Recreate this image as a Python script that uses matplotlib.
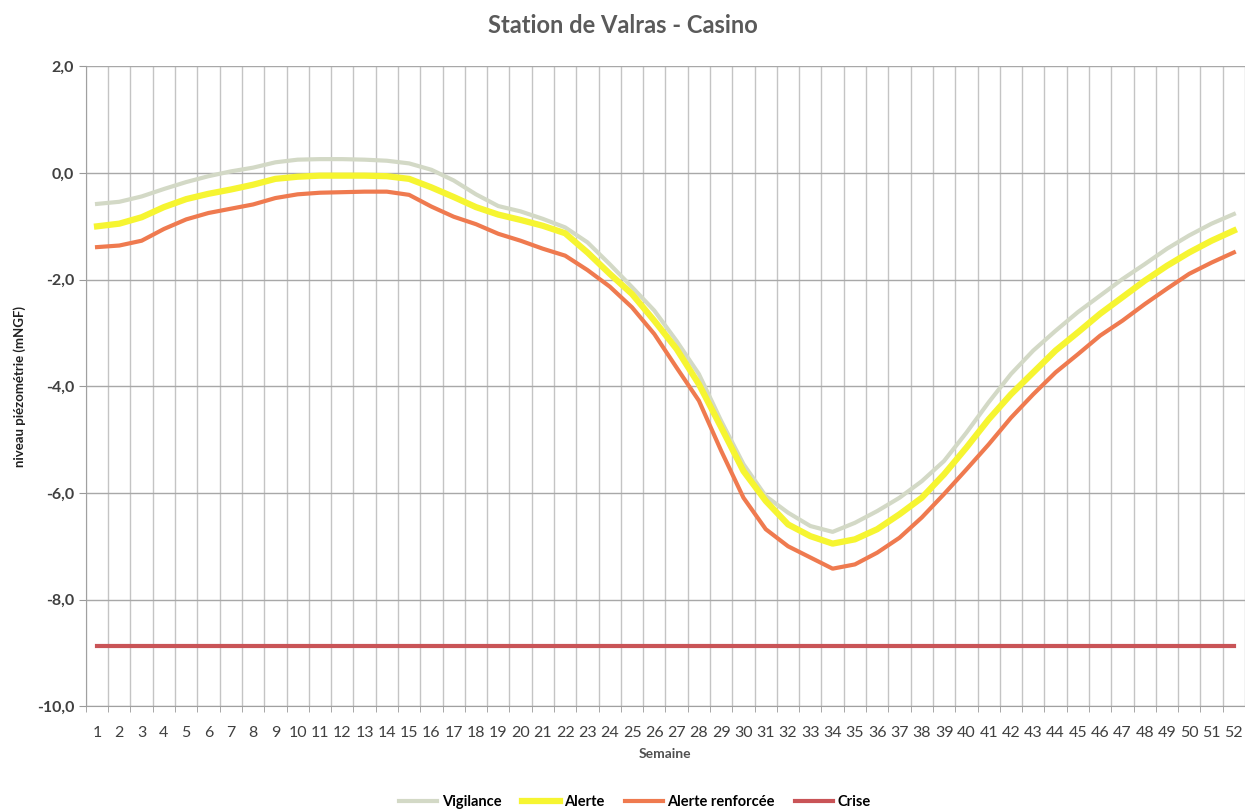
import numpy as np
import matplotlib.pyplot as plt
from matplotlib.ticker import FuncFormatter

# semaines
semaines = list(range(1, 53))

# seuils (mNGF)
vigilance = [-0.58, -0.54, -0.44, -0.30, -0.17, -0.06, 0.03, 0.10, 0.20, 0.25,
             0.26, 0.26, 0.25, 0.23, 0.18, 0.06, -0.14, -0.40, -0.62, -0.72,
             -0.86, -1.02, -1.30, -1.71, -2.14, -2.58, -3.15, -3.77, -4.65, -5.46,
             -6.06, -6.37, -6.62, -6.73, -6.56, -6.34, -6.09, -5.78, -5.40, -4.87,
             -4.30, -3.77, -3.33, -2.96, -2.61, -2.30, -1.99, -1.71, -1.42, -1.17,
             -0.95, -0.77]
alerte = [-1.00, -0.95, -0.83, -0.64, -0.49, -0.39, -0.31, -0.22, -0.11, -0.07,
          -0.05, -0.05, -0.05, -0.06, -0.11, -0.27, -0.45, -0.64, -0.78, -0.88,
          -0.99, -1.13, -1.49, -1.89, -2.27, -2.77, -3.30, -3.96, -4.77, -5.59,
          -6.15, -6.59, -6.81, -6.95, -6.87, -6.68, -6.40, -6.09, -5.65, -5.15,
          -4.62, -4.15, -3.74, -3.33, -2.99, -2.64, -2.33, -2.02, -1.74, -1.49,
          -1.27, -1.08]
alerte_renf = [-1.39, -1.36, -1.27, -1.05, -0.87, -0.75, -0.67, -0.59, -0.47, -0.40,
               -0.37, -0.36, -0.35, -0.35, -0.41, -0.63, -0.82, -0.96, -1.14, -1.27,
               -1.42, -1.55, -1.82, -2.13, -2.52, -3.02, -3.65, -4.27, -5.21, -6.09,
               -6.68, -7.00, -7.21, -7.42, -7.34, -7.12, -6.84, -6.46, -6.02, -5.56,
               -5.09, -4.59, -4.15, -3.74, -3.40, -3.05, -2.77, -2.46, -2.17, -1.89,
               -1.68, -1.49]
crise = [-8.87] * 52

plt.rcParams['font.family'] = ['Lato', 'DejaVu Sans']

fig = plt.figure(figsize=(12.45, 8.09), dpi=100)
ax = fig.add_axes([0.069, 0.127, 0.931, 0.791])

ax.plot(semaines, vigilance, color='#d3d9c6', linewidth=3, label='Vigilance')
ax.plot(semaines, alerte, color='#f6f531', linewidth=4.5, label='Alerte')
ax.plot(semaines, alerte_renf, color='#ef7a4f', linewidth=3, label='Alerte renforcée')
ax.plot(semaines, crise, color='#c95457', linewidth=3, label='Crise')

ax.set_xlim(0.5, 52.5)
ax.set_ylim(-10, 2)
ax.set_yticks(np.arange(-10, 2.1, 2))
ax.yaxis.set_major_formatter(FuncFormatter(lambda v, p: f'{v:.1f}'.replace('.', ',')))
ax.set_xticks(semaines)
ax.set_xticks(np.arange(0.5, 53, 1), minor=True)
ax.tick_params(axis='x', which='major', length=0, labelsize=11.5, colors='#404040', pad=14)
ax.tick_params(axis='x', which='minor', length=4, color='#999999')
ax.tick_params(axis='y', length=5, color='#999999', labelsize=11.5, colors='#404040')
for lab in ax.get_yticklabels():
    lab.set_fontweight('bold')

ax.grid(axis='y', which='major', color='#a8a8a8', linewidth=1)
ax.grid(axis='x', which='minor', color='#c4c4c4', linewidth=1)
ax.set_axisbelow(True)
for s in ['top', 'right']:
    ax.spines[s].set_visible(False)
ax.spines['left'].set_color('#a0a0a0')
ax.spines['bottom'].set_color('#a0a0a0')

ax.set_xlabel('Semaine', fontsize=10, fontweight='bold', color='#505050', labelpad=6)
ax.set_ylabel('niveau piézométrie (mNGF)', fontsize=9.5, fontweight='bold', color='#202020', labelpad=8)
fig.suptitle('Station de Valras - Casino', fontsize=17, fontweight='bold', color='#5a5a5a', y=0.983)

fig.legend(loc='lower center', ncol=4, frameon=False, handlelength=2.6,
           bbox_to_anchor=(0.51, -0.016), columnspacing=1.4, handletextpad=0.3,
           prop={'weight': 'bold', 'size': 10.5})

fig.savefig('out.png', dpi=100)
